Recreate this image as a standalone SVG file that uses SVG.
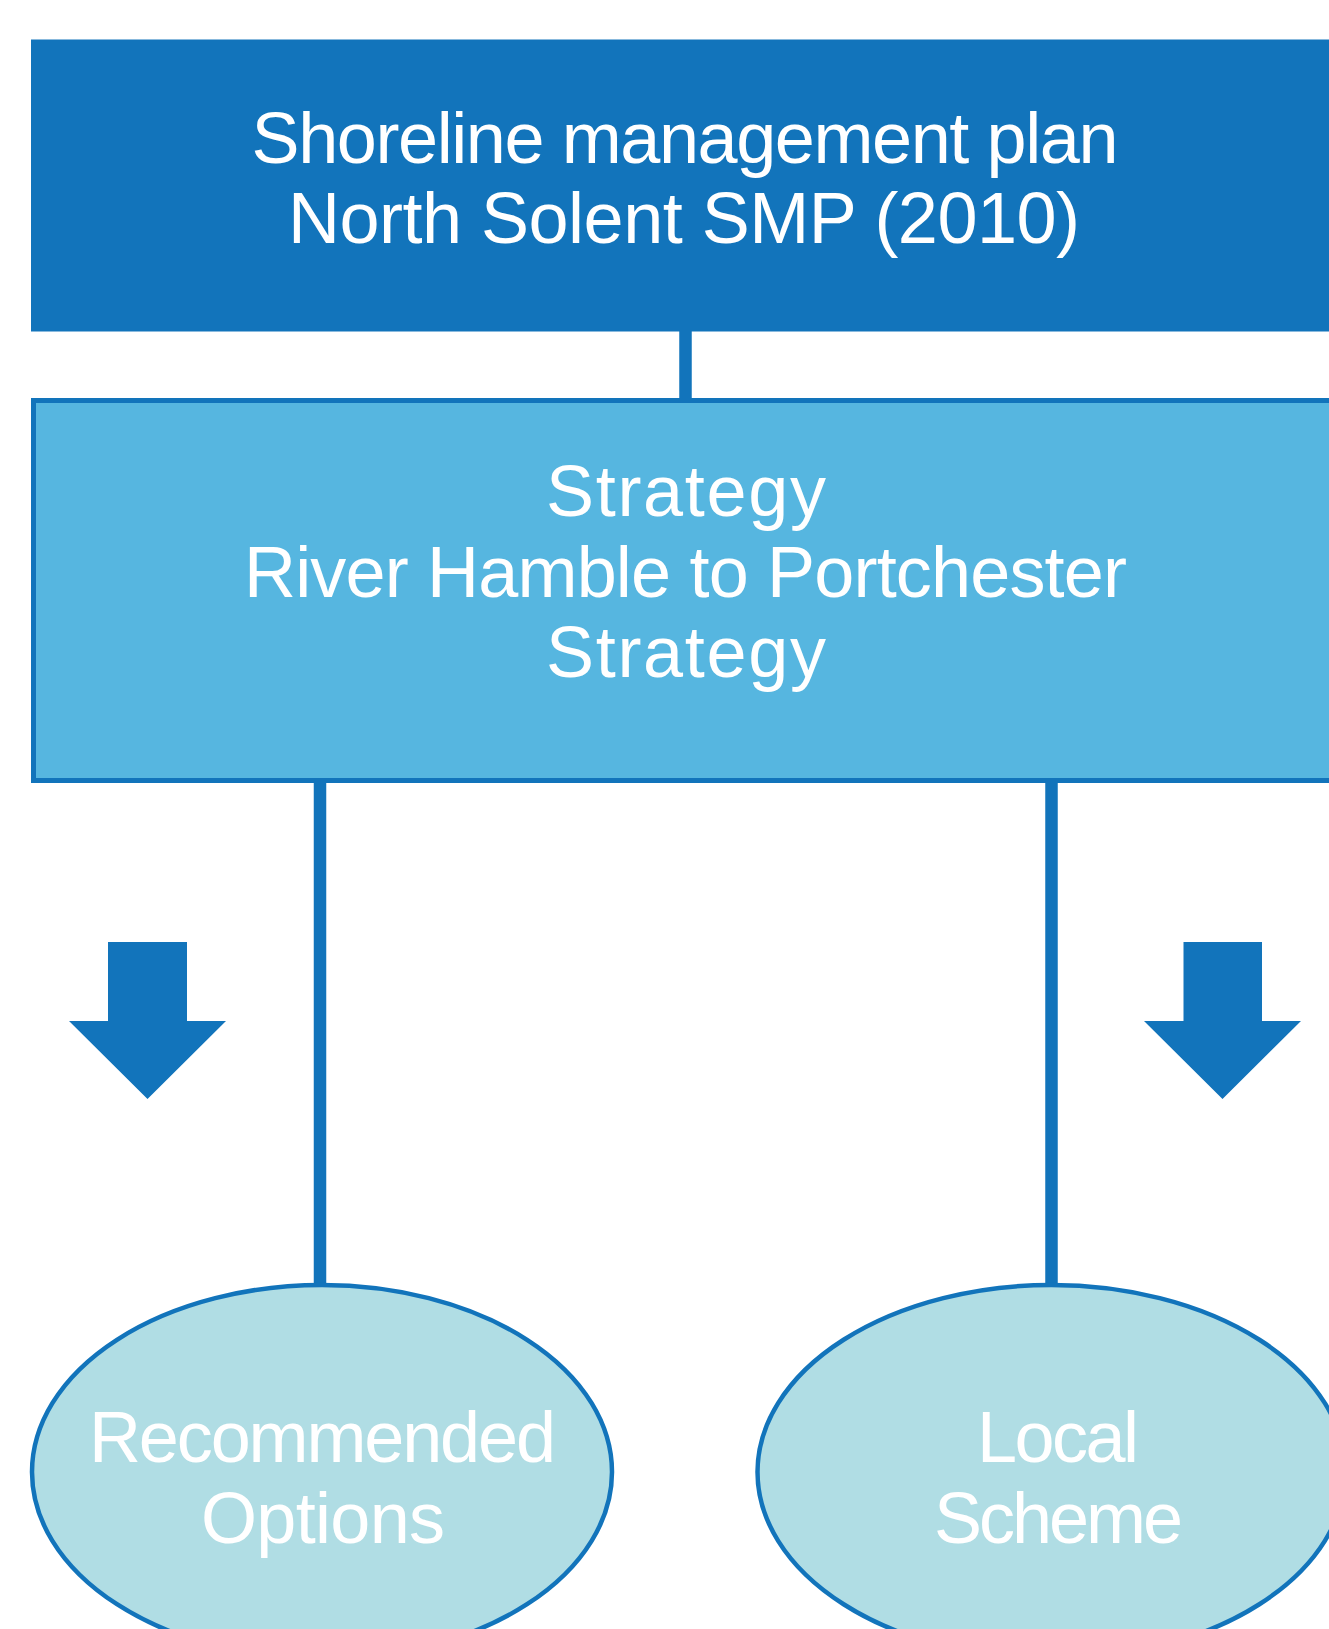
<svg xmlns="http://www.w3.org/2000/svg" width="1329" height="1629" viewBox="0 0 1329 1629">
<defs>
<style>
.lbl{font-family:"Liberation Sans",Arial,sans-serif;font-size:72px;fill:#ffffff;text-anchor:middle}
.conn{stroke:#1274BB;stroke-width:12.5;fill:none}
.arrow{fill:#1274BB}
.oval{fill:#B0DDE4;stroke:#1274BB;stroke-width:4.5}
</style>
</defs>
<rect width="1329" height="1629" fill="#ffffff"/>
<g id="connectors">
<line class="conn" x1="685.5" y1="331" x2="685.5" y2="401"/>
<line class="conn" x1="320" y1="781" x2="320" y2="1286"/>
<line class="conn" x1="1051.5" y1="781" x2="1051.5" y2="1286"/>
</g>
<g id="node-smp">
<rect x="31" y="39.5" width="1330" height="292" fill="#1274BB"/>
<text class="lbl" x="685" y="162.5" textLength="867" lengthAdjust="spacing">Shoreline management plan</text>
<text class="lbl" x="684" y="242.5" textLength="792" lengthAdjust="spacing">North Solent SMP (2010)</text>
</g>
<g id="node-strategy">
<rect x="33.5" y="400.5" width="1330" height="380" fill="#56B6E0" stroke="#1274BB" stroke-width="5"/>
<text class="lbl" x="686" y="516" textLength="280" lengthAdjust="spacing">Strategy</text>
<text class="lbl" x="685.5" y="596.5" textLength="883" lengthAdjust="spacing">River Hamble to Portchester</text>
<text class="lbl" x="686" y="676.5" textLength="280" lengthAdjust="spacing">Strategy</text>
</g>
<g id="arrow-left">
<polygon class="arrow" points="108,942 187,942 187,1021 226,1021 147.5,1099 69,1021 108,1021"/>
</g>
<g id="arrow-right">
<polygon class="arrow" points="1183.5,942 1262,942 1262,1021 1301,1021 1222.5,1099 1144,1021 1183.5,1021"/>
</g>
<g id="node-recommended">
<ellipse class="oval" cx="322" cy="1472" rx="290" ry="187"/>
<text class="lbl" x="322.5" y="1461.5" textLength="467" lengthAdjust="spacing">Recommended</text>
<text class="lbl" x="323" y="1542.5" textLength="244" lengthAdjust="spacing">Options</text>
</g>
<g id="node-local">
<ellipse class="oval" cx="1051.5" cy="1472" rx="294" ry="187"/>
<text class="lbl" x="1058" y="1461.5" textLength="162" lengthAdjust="spacing">Local</text>
<text class="lbl" x="1058.5" y="1542.5" textLength="249" lengthAdjust="spacing">Scheme</text>
</g>
</svg>
